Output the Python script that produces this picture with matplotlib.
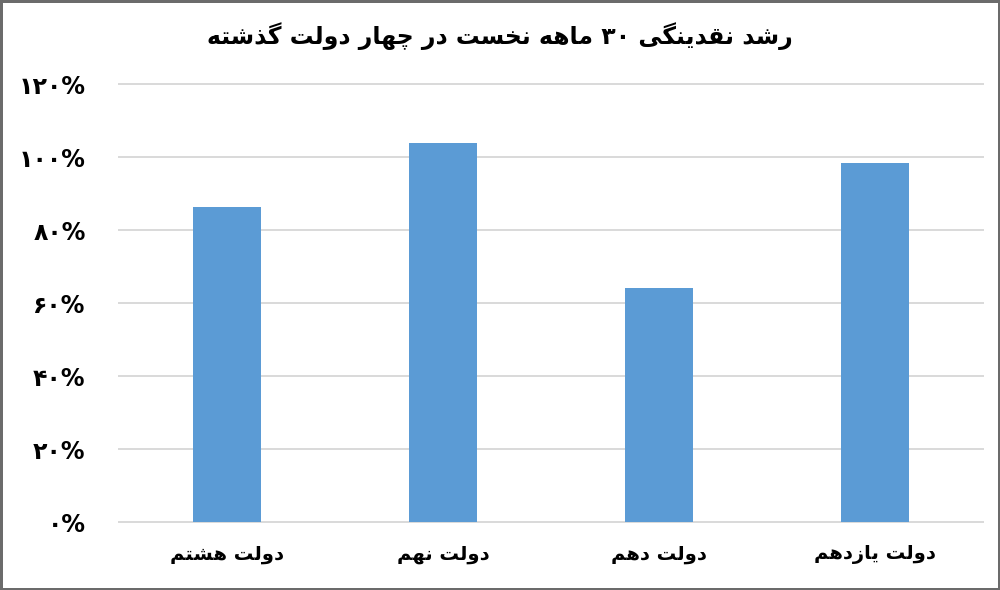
import re

import matplotlib
matplotlib.use("Agg")
import matplotlib.pyplot as plt

# data
categories = ["دولت هشتم", "دولت نهم", "دولت دهم", "دولت یازدهم"]
growth_pct = [86.3, 104.0, 64.1, 98.4]
yticks = [0, 20, 40, 60, 80, 100, 120]
title = "رشد نقدینگی ۳۰ ماهه نخست در چهار دولت گذشته"

# presentation forms: isolated, final[, initial, medial]
FORMS = {
    "ا": "\uFE8D\uFE8E",
    "د": "\uFEA9\uFEAA",
    "ذ": "\uFEAB\uFEAC",
    "ر": "\uFEAD\uFEAE",
    "ز": "\uFEAF\uFEB0",
    "و": "\uFEED\uFEEE",
    "ت": "\uFE95\uFE96\uFE97\uFE98",
    "خ": "\uFEA5\uFEA6\uFEA7\uFEA8",
    "س": "\uFEB1\uFEB2\uFEB3\uFEB4",
    "ش": "\uFEB5\uFEB6\uFEB7\uFEB8",
    "ق": "\uFED5\uFED6\uFED7\uFED8",
    "ل": "\uFEDD\uFEDE\uFEDF\uFEE0",
    "م": "\uFEE1\uFEE2\uFEE3\uFEE4",
    "ن": "\uFEE5\uFEE6\uFEE7\uFEE8",
    "ه": "\uFEE9\uFEEA\uFEEB\uFEEC",
    "ی": "\uFBFC\uFBFD\uFBFE\uFBFF",
    "گ": "\uFB92\uFB93\uFB94\uFB95",
    "چ": "\uFB7A\uFB7B\uFB7C\uFB7D",
}


def fa(text):
    """Join Persian letters and put them in visual (left-to-right) order."""
    out = []
    for i, ch in enumerate(text):
        f = FORMS.get(ch)
        if f is None:
            out.append(ch)
            continue
        prev = FORMS.get(text[i - 1]) if i > 0 else None
        nxt = FORMS.get(text[i + 1]) if i + 1 < len(text) else None
        jp = prev is not None and len(prev) == 4
        jn = len(f) == 4 and nxt is not None
        out.append(f[3 if jp and jn else 1 if jp else 2 if jn else 0])
    vis = "".join(out)[::-1]
    return re.sub(r"[\u06F0-\u06F9]+", lambda m: m.group(0)[::-1], vis)


def fa_digits(n):
    return "".join(chr(0x06F0 + int(d)) for d in str(n))


plt.rcParams["font.family"] = ["DejaVu Sans"]

fig = plt.figure(figsize=(10, 5.9), dpi=100, linewidth=2.5, edgecolor="#6b6b6b")
ax = fig.add_axes([0.119, 0.1147, 0.864, 0.7424])

x = range(len(categories))
ax.bar(x, growth_pct, width=0.313, color="#5B9BD5", zorder=3)

ax.set_xlim(-0.5, 3.5)
ax.set_ylim(0, 120)
ax.set_yticks(yticks)
ax.set_yticklabels([fa_digits(v) + "%" for v in yticks], fontsize=17, fontweight="bold")
ax.set_xticks(list(x))
ax.set_xticklabels([fa(c) for c in categories], fontsize=14, fontweight="bold")
ax.tick_params(axis="y", length=0, pad=24)
ax.tick_params(axis="x", length=0, pad=16)
ax.grid(axis="y", color="#D9D9D9", linewidth=1.4, zorder=0)
for line in ax.get_ygridlines():
    line.set_clip_on(False)
for s in ax.spines.values():
    s.set_visible(False)

fig.text(0.5, 1 - 36 / 590, fa(title), ha="center", va="center",
         fontsize=17, fontweight="bold")

fig.savefig("out.png", dpi=100)
